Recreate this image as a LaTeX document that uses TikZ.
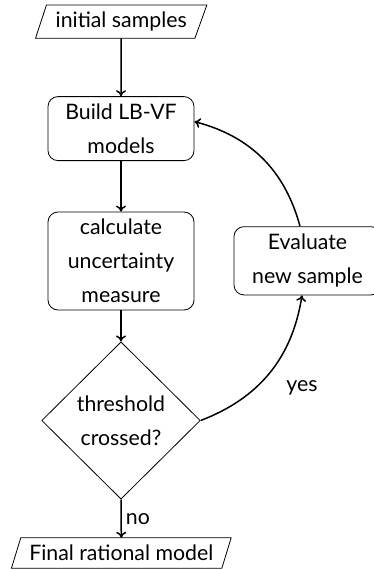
\documentclass[tikz,border=0pt]{standalone}
\usepackage{fontspec}
\setmainfont{Lato}
\usetikzlibrary{shapes.geometric,arrows.meta}
\begin{document}
\begin{tikzpicture}[x=1pt,y=-1pt,
  every node/.style={font=\fontsize{21.3}{34}\selectfont, align=center},
  box/.style={draw, line width=0.8pt, rounded corners=10pt, inner sep=0pt},
  iobox/.style={inner sep=0pt},
  dec/.style={draw, line width=0.8pt, shape=diamond, inner sep=0pt, minimum width=158.6pt, minimum height=157.3pt},
  outline/.style={line width=0.8pt},
  flow/.style={line width=1.5pt, -{To[length=6pt,width=10pt]}},
  lbl/.style={inner sep=0pt}]
\useasboundingbox (0,0) rectangle (373,570);
\node[iobox, minimum width=171pt, minimum height=33pt] (i) at (121.2,21.6) {initial samples};
\draw[outline] ([xshift=11pt]i.north west) -- (i.north east) -- ([xshift=-12pt]i.south east) -- (i.south west) -- cycle;
\node[box, minimum width=146pt, minimum height=64pt] (b) at (121,128.6) {Build LB-VF\\models};
\node[box, minimum width=146pt, minimum height=98pt] (c) at (121,261) {calculate\\uncertainty\\measure};
\node[box, minimum width=147pt, minimum height=68.3pt] (e) at (307.5,260.8) {Evaluate\\new sample};
\node[dec] (d) at (121,420.5) {threshold\\crossed?};
\node[iobox, minimum width=219.3pt, minimum height=30pt] (f) at (121.3,553) {Final rational model};
\draw[outline] ([xshift=9.3pt]f.north west) -- (f.north east) -- ([xshift=-9.3pt]f.south east) -- (f.south west) -- cycle;
\draw[flow] (i.south) -- (b.north);
\draw[flow] (b.south) -- (c.north);
\draw[flow] (c.south) -- (d.north);
\draw[flow] (d.south) -- node[lbl, right=4pt] {no} (f.north);
\draw[flow] (d.east) to[bend right] ([xshift=-5.5pt]e.south);
\draw[flow] ([xshift=-7.5pt]e.north) to[bend right] ([yshift=7pt]b.east);
\node[lbl] (y) at (302,388) {yes};
\end{tikzpicture}
\end{document}
